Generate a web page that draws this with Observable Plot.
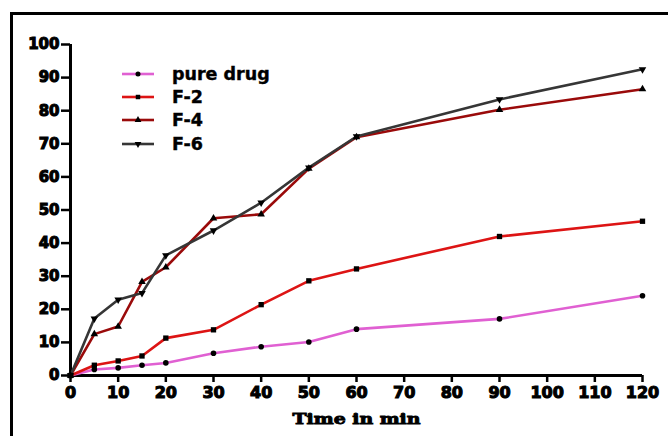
<!DOCTYPE html>
<html>
<head>
<meta charset="utf-8">
<script src="https://cdn.jsdelivr.net/npm/d3@7"></script>
<script src="https://cdn.jsdelivr.net/npm/@observablehq/plot@0.6"></script>
<style>
  html, body { margin: 0; padding: 0; background: #fff; }
  #wrap { position: relative; width: 668px; height: 436px; overflow: hidden; background: #fff; }
  #frame { position: absolute; left: 10px; top: 12px; width: 700px; height: 500px;
           border-left: 3px solid #000; border-top: 3px solid #000; box-sizing: border-box; }
  #chart { position: absolute; left: 0; top: 0; }
  #legend { position: absolute; left: 122px; top: 62px; font-family: "DejaVu Sans", sans-serif;
            font-weight: bold; font-size: 17.5px; color: #000; -webkit-text-stroke: 0.4px #000; }
  .row { display: flex; align-items: center; height: 23.4px; }
  .row svg { margin-right: 18px; }
  svg [aria-label="x-axis tick label"] text,
  svg [aria-label="y-axis tick label"] text { stroke: #000; stroke-width: 1.1px; }
</style>
</head>
<body>
<div id="wrap">
  <div id="frame"></div>
  <div id="chart"></div>
  <div id="legend"></div>
</div>
<script>
const times    = [0, 5, 10, 15, 20, 30, 40, 50, 60, 90, 120];
const pureDrug = [0, 1.8, 2.3, 3.1, 3.8, 6.7, 8.7, 10.1, 14.0, 17.1, 24.1];
const f2       = [0, 3.1, 4.4, 5.9, 11.3, 13.8, 21.4, 28.6, 32.2, 42.0, 46.6];
const f4       = [0, 12.5, 14.8, 28.3, 32.7, 47.5, 48.7, 62.5, 72.0, 80.3, 86.5];
const f6       = [0, 17.2, 22.9, 24.9, 36.3, 43.8, 52.2, 62.8, 72.2, 83.4, 92.5];
const seriesNames = ["pure drug", "F-2", "F-4", "F-6"];
const seriesColors = ["#e060d2", "#dd1414", "#9a0a0a", "#363636"];
const xTicks = [0, 10, 20, 30, 40, 50, 60, 70, 80, 90, 100, 110, 120];
const yTicks = [0, 10, 20, 30, 40, 50, 60, 70, 80, 90, 100];

const triangleDown = {
  draw(context, size) {
    const s = Math.sqrt(size / 0.433);
    const h = s * Math.sqrt(3) / 2;
    context.moveTo(-s / 2, -h / 3);
    context.lineTo(s / 2, -h / 3);
    context.lineTo(0, 2 * h / 3);
    context.closePath();
  }
};
const triangleUp = {
  draw(context, size) {
    const s = Math.sqrt(size / 0.433);
    const h = s * Math.sqrt(3) / 2;
    context.moveTo(-s / 2, h / 3);
    context.lineTo(s / 2, h / 3);
    context.lineTo(0, -2 * h / 3);
    context.closePath();
  }
};
const seriesSymbols = ["circle", "square", triangleUp, triangleDown];

const allValues = [pureDrug, f2, f4, f6];
const data = [];
seriesNames.forEach((name, i) => {
  times.forEach((t, j) => data.push({series: name, time: t, value: allValues[i][j], idx: i}));
});

const tickFont = "DejaVu Sans, sans-serif";
const marks = [
  Plot.ruleY([0], {x1: 0, x2: 120, stroke: "#000", strokeWidth: 3}),
  Plot.ruleX([0], {y1: 0, y2: 100, stroke: "#000", strokeWidth: 3}),
  Plot.axisX({ticks: xTicks, tickSize: 7, strokeWidth: 2.5, tickPadding: 4,
    fontSize: 16, fontWeight: "bold", fontFamily: tickFont,
    label: "Time in min", labelAnchor: "center", labelArrow: "none", labelOffset: 48}),
  Plot.axisY({ticks: yTicks, tickSize: 9, strokeWidth: 2.5, tickPadding: 2,
    fontSize: 15, fontWeight: "bold", fontFamily: tickFont,
    label: null})
];
seriesNames.forEach((name, i) => {
  const d = data.filter(r => r.series === name);
  marks.push(Plot.line(d, {x: "time", y: "value", stroke: seriesColors[i], strokeWidth: 2.6}));
});
seriesNames.forEach((name, i) => {
  const d = data.filter(r => r.series === name);
  marks.push(Plot.dot(d, {x: "time", y: "value", fill: "#000", stroke: "none",
    symbol: () => seriesSymbols[i], r: i === 1 ? 3 : 2.8}));
});

const chart = Plot.plot({
  width: 668, height: 436,
  marginLeft: 70, marginRight: 26, marginTop: 44, marginBottom: 61,
  x: {domain: [0, 120]},
  y: {domain: [0, 100]},
  style: {background: "transparent", overflow: "visible"},
  marks
});
document.getElementById("chart").appendChild(chart);
chart.querySelectorAll('[aria-label="x-axis label"] text').forEach(t => {
  t.setAttribute("font-family", "DejaVu Serif, serif");
  t.setAttribute("font-weight", "bold");
  t.setAttribute("font-size", "15");
  t.setAttribute("stroke", "#000");
  t.setAttribute("stroke-width", "0.9");
  t.setAttribute("textLength", "128");
  t.setAttribute("lengthAdjust", "spacingAndGlyphs");
});

// legend
const legend = document.getElementById("legend");
seriesNames.forEach((name, i) => {
  const row = document.createElement("div");
  row.className = "row";
  const ns = "http://www.w3.org/2000/svg";
  const s = document.createElementNS(ns, "svg");
  s.setAttribute("width", 32); s.setAttribute("height", 12);
  const ln = document.createElementNS(ns, "line");
  ln.setAttribute("x1", 0); ln.setAttribute("x2", 32); ln.setAttribute("y1", 6); ln.setAttribute("y2", 6);
  ln.setAttribute("stroke", seriesColors[i]); ln.setAttribute("stroke-width", 2.6);
  s.appendChild(ln);
  const p = document.createElementNS(ns, "path");
  const sym = typeof seriesSymbols[i] === "string"
    ? (seriesSymbols[i] === "circle" ? d3.symbolCircle : d3.symbolSquare) : seriesSymbols[i];
  p.setAttribute("d", d3.symbol(sym, 20)());
  p.setAttribute("transform", "translate(16,6)");
  p.setAttribute("fill", "#000");
  s.appendChild(p);
  row.appendChild(s);
  const tx = document.createElement("span");
  tx.textContent = name;
  row.appendChild(tx);
  legend.appendChild(row);
});
</script>
</body>
</html>
